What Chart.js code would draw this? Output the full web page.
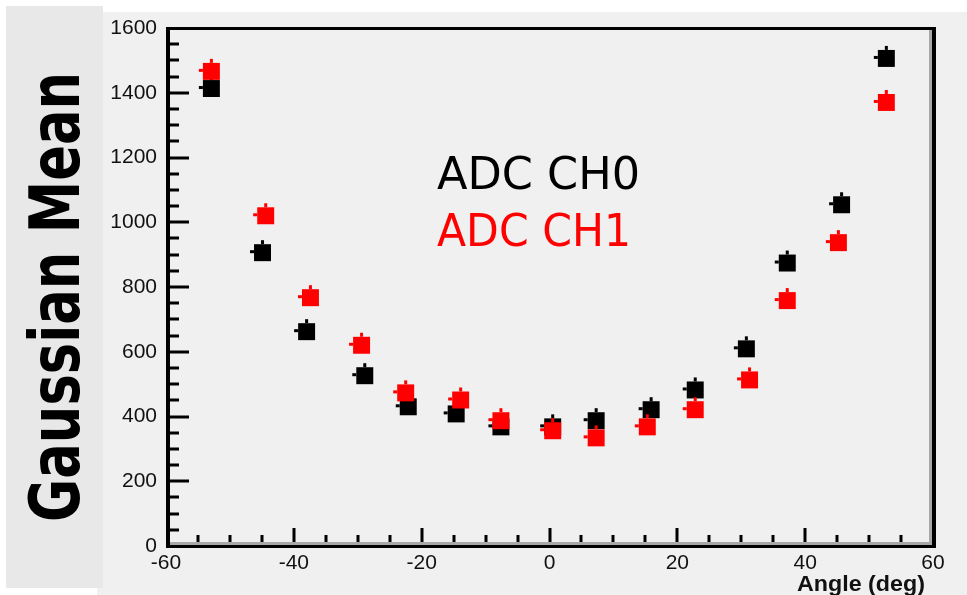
<!DOCTYPE html>
<html><head><meta charset="utf-8">
<script src="https://cdn.jsdelivr.net/npm/chart.js@4.4.1/dist/chart.umd.min.js"></script>
<style>
html,body{margin:0;padding:0;background:#fff;width:967px;height:595px;overflow:hidden;}
#wrap{position:relative;width:967px;height:595px;}
#bgMain{position:absolute;left:103px;top:12px;width:864px;height:583px;background:#f0f0f0;}
#bgMain2{position:absolute;left:97px;top:588px;width:10px;height:7px;background:#f0f0f0;}
#bgLeft{position:absolute;left:6px;top:6px;width:97px;height:582px;background:#e8e8e8;}
#c{position:absolute;left:0;top:0;}
.ov{position:absolute;white-space:nowrap;line-height:1;transform-origin:0 0;}
#ytitle{font-family:"DejaVu Sans";font-weight:bold;font-size:70px;color:#000;}
#leg0,#leg1{font-family:"DejaVu Sans";font-size:44px;}
#leg0{color:#000;} #leg1{color:#ff0000;}
#xtitle{font-family:"Liberation Sans";font-weight:bold;font-size:22px;color:#111;}
</style></head>
<body><div id="wrap">
<div id="bgMain"></div><div id="bgMain2"></div><div id="bgLeft"></div>
<canvas id="c" width="967" height="595"></canvas>
<div id="ytitle" class="ov">Gaussian Mean</div>
<div id="leg0" class="ov">ADC CH0</div>
<div id="leg1" class="ov">ADC CH1</div>
<div id="xtitle" class="ov">Angle (deg)</div>
</div>
<script>
// ---- data ----
const angles0 = [-52.9,-44.9,-38.0,-28.9,-22.1,-14.6,-7.6,0.5,7.3,15.9,22.8,30.8,37.2,45.7,52.7];
const ch0Values = [1413,906,662,526,430,408,368,368,387,421,482,609,874,1054,1506];
const angles1 = [-52.9,-44.4,-37.4,-29.4,-22.5,-13.9,-7.6,0.5,7.3,15.3,22.8,31.3,37.2,45.2,52.7];
const ch1Values = [1466,1020,767,620,473,451,387,356,334,368,421,513,758,937,1370];
const xTickValues = [-60,-40,-20,0,20,40,60];
const yTickValues = [0,200,400,600,800,1000,1200,1400,1600];
const seriesNames = ["ADC CH0","ADC CH1"];

const TARGET = {left:166, top:28, right:933, bottom:546};

const stubPlugin = {
  id:'stubs',
  afterDatasetDraw(chart, args){
    const ctx = chart.ctx;
    const ds = chart.data.datasets[args.index];
    ctx.save();
    ctx.fillStyle = ds.backgroundColor;
    args.meta.data.forEach(pt => {
      const h = 8.5;
      ctx.fillRect(pt.x - h - 4, pt.y - 2.5, 4, 3);
      ctx.fillRect(pt.x - 1.5, pt.y - h - 4, 3, 4);
    });
    ctx.restore();
  }
};

const framePlugin = {
  id:'frame',
  beforeDatasetsDraw(chart){
    const ctx = chart.ctx, ca = chart.chartArea;
    const xs = chart.scales.x, ys = chart.scales.y;
    ctx.save();
    ctx.fillStyle = '#000';
    for (let v = 50; v < 1600; v += 50){
      const y = ys.getPixelForValue(v);
      const len = (v % 200 === 0) ? 19 : 9;
      ctx.fillRect(ca.left + 4, Math.round(y) - 1.5, len, 3);
    }
    for (let v = -55; v < 60; v += 5){
      const x = xs.getPixelForValue(v);
      const len = (v % 20 === 0) ? 17 : 10;
      ctx.fillRect(Math.round(x) - 1.5, ca.bottom - 1 - len, 3, len);
    }
    ctx.restore();
  },
  afterDraw(chart){
    const ctx = chart.ctx, ca = chart.chartArea;
    const L = ca.left, T = ca.top, R = ca.right, B = ca.bottom;
    ctx.save();
    ctx.fillStyle = '#a8a8a8';
    ctx.fillRect(L, B - 4, R - L, 3);
    ctx.fillRect(R - 4, T + 2, 3, B - T - 2);
    ctx.fillStyle = '#000';
    ctx.fillRect(L, T - 1, R + 3 - L, 3);
    ctx.fillRect(L, T - 1, 4, B - T + 3);
    ctx.fillRect(L, B - 1, R + 3 - L, 3);
    ctx.fillRect(R - 1, T - 1, 4, B - T + 3);
    ctx.restore();
  }
};

const tickFont = {family:'Liberation Sans', size:21, weight:'normal'};

const chart = new Chart(document.getElementById('c'), {
  type:'scatter',
  data:{
    datasets:[
      {label:seriesNames[0], data:angles0.map((a,i)=>({x:a,y:ch0Values[i]})),
       backgroundColor:'#000000', borderColor:'#000000', pointStyle:'rect',
       pointRadius:12, pointHoverRadius:12, pointBorderWidth:0, order:1},
      {label:seriesNames[1], data:angles1.map((a,i)=>({x:a,y:ch1Values[i]})),
       backgroundColor:'#ff0000', borderColor:'#ff0000', pointStyle:'rect',
       pointRadius:12, pointHoverRadius:12, pointBorderWidth:0, order:0}
    ]
  },
  options:{
    responsive:false, animation:false, devicePixelRatio:1,
    layout:{padding:{left:100, top:16, right:30, bottom:20}},
    plugins:{legend:{display:false}, tooltip:{enabled:false}},
    scales:{
      x:{type:'linear', min:-60, max:60,
         afterBuildTicks: s => { s.ticks = xTickValues.map(v=>({value:v})); },
         grid:{display:false, drawTicks:false}, border:{display:false},
         ticks:{font:tickFont, color:'#111', padding:5, maxRotation:0, autoSkip:false,
                callback: v => String(v)}},
      y:{type:'linear', min:0, max:1600,
         afterBuildTicks: s => { s.ticks = yTickValues.map(v=>({value:v})); },
         grid:{display:false, drawTicks:false}, border:{display:false},
         ticks:{font:tickFont, color:'#111', padding:9, autoSkip:false,
                callback: v => String(v)}}
    }
  },
  plugins:[framePlugin, stubPlugin]
});

for (let i = 0; i < 4; i++){
  const ca = chart.chartArea, p = chart.options.layout.padding;
  p.left += TARGET.left - ca.left;
  p.top += TARGET.top - ca.top;
  p.right += ca.right - TARGET.right;
  p.bottom += ca.bottom - TARGET.bottom;
  chart.update('none');
}

// ---- text overlays ----
function placeH(id, left, top, width){
  const el = document.getElementById(id);
  const w = el.getBoundingClientRect().width;
  el.style.left = left + 'px'; el.style.top = top + 'px';
  el.style.transform = 'scaleX(' + (width / w) + ')';
}
placeH('leg0', 437, 152, 203);
placeH('leg1', 437, 209, 194);
placeH('xtitle', 797, 573, 128);
(function(){
  const el = document.getElementById('ytitle');
  const w = el.getBoundingClientRect().width;
  el.style.left = '20px'; el.style.top = '522px';
  el.style.transform = 'rotate(-90deg) scaleX(' + (450 / w) + ')';
})();
</script>
</body></html>
